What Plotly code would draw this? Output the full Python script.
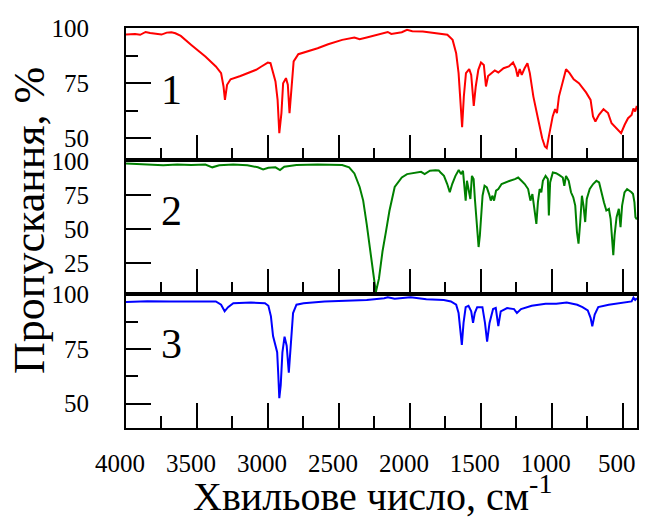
import plotly.graph_objects as go
from plotly.subplots import make_subplots

FONT = "Liberation Serif"

# ---- data: (wavenumber cm^-1, transmittance %) ----
red_points = [
    (4000, 97.2), (3936, 97.4), (3900, 97.0), (3862, 98.3), (3830, 97.8), (3788, 97.6),
    (3750, 97.1), (3713, 98.0), (3680, 98.2), (3652, 97.7), (3614, 96.5), (3540, 92.4),
    (3441, 87.1), (3367, 82.6), (3330, 79.6), (3313, 73.5), (3303, 67.4), (3288, 74.3),
    (3263, 76.8), (3194, 78.3), (3120, 80.3), (3083, 81.1), (3046, 82.6), (3001, 84.4),
    (2982, 84.1), (2964, 80.3), (2947, 75.8), (2932, 67.4), (2920, 52.3), (2905, 61.4),
    (2893, 75.0), (2873, 77.3), (2860, 74.3), (2848, 61.4), (2833, 75.0), (2819, 84.9),
    (2786, 88.2), (2725, 89.4), (2650, 90.9), (2576, 92.7), (2477, 94.7), (2391, 95.8),
    (2354, 95.0), (2304, 95.8), (2230, 97.0), (2156, 98.3), (2131, 97.4), (2057, 98.2),
    (2020, 99.3), (1983, 98.6), (1909, 98.5), (1810, 97.7), (1736, 97.0), (1699, 94.7),
    (1674, 88.6), (1657, 79.6), (1644, 67.4), (1632, 55.0), (1620, 68.9), (1605, 79.6),
    (1582, 81.4), (1568, 78.8), (1550, 64.7), (1536, 73.5), (1518, 81.1), (1499, 84.4),
    (1479, 83.3), (1464, 73.5), (1449, 78.3), (1427, 79.6), (1402, 80.8), (1377, 79.9),
    (1340, 81.8), (1303, 82.6), (1273, 84.4), (1254, 81.8), (1241, 78.0), (1226, 81.4),
    (1212, 78.8), (1192, 81.8), (1172, 84.1), (1155, 79.6), (1130, 68.9), (1098, 59.1),
    (1068, 50.0), (1049, 46.2), (1036, 45.5), (1019, 51.5), (994, 59.9), (977, 63.2),
    (964, 61.4), (950, 68.9), (925, 75.8), (900, 81.4), (875, 79.6), (846, 76.8),
    (809, 75.0), (759, 70.8), (727, 67.4), (710, 59.9), (693, 57.6), (668, 60.6),
    (636, 63.2), (604, 61.4), (579, 56.8), (549, 54.6), (512, 52.3), (487, 56.1),
    (463, 59.1), (438, 60.6), (425, 63.5), (413, 62.1), (401, 64.7),
]

green_points = [
    (4000, 98.2), (3936, 97.8), (3837, 97.5), (3738, 96.8), (3639, 97.3), (3540, 97.0),
    (3441, 97.3), (3392, 95.3), (3343, 96.8), (3244, 97.3), (3145, 96.8), (3071, 95.3),
    (3034, 93.8), (2997, 95.0), (2947, 95.3), (2915, 93.3), (2885, 95.8), (2799, 97.0),
    (2650, 97.3), (2477, 97.0), (2428, 95.3), (2391, 90.8), (2354, 80.8), (2329, 70.8),
    (2304, 53.3), (2280, 33.3), (2260, 15.8), (2240, 3.3), (2218, 13.3), (2193, 33.3),
    (2168, 48.3), (2144, 63.3), (2107, 80.8), (2057, 87.8), (2020, 90.3), (1958, 91.3),
    (1921, 92.0), (1896, 90.3), (1859, 92.8), (1820, 93.2), (1797, 93.0), (1784, 91.5),
    (1760, 89.0), (1737, 83.0), (1719, 76.9), (1702, 83.0), (1679, 89.0), (1656, 93.4),
    (1640, 90.3), (1626, 92.7), (1616, 81.7), (1607, 70.8), (1598, 85.4), (1586, 76.9),
    (1574, 72.0), (1563, 89.0), (1551, 86.6), (1542, 72.0), (1533, 59.8), (1523, 47.6),
    (1516, 36.6), (1507, 45.2), (1498, 59.8), (1488, 74.4), (1474, 81.7), (1458, 80.5),
    (1442, 75.6), (1430, 70.8), (1419, 74.4), (1407, 70.8), (1393, 78.1), (1377, 79.3),
    (1354, 83.0), (1330, 84.2), (1295, 85.4), (1260, 86.6), (1237, 87.8), (1214, 85.4),
    (1191, 83.0), (1167, 79.3), (1151, 70.8), (1137, 75.6), (1126, 68.3), (1109, 53.7),
    (1098, 69.6), (1086, 79.3), (1074, 76.9), (1063, 85.4), (1044, 89.0), (1028, 86.6),
    (1021, 59.8), (1012, 84.2), (993, 91.5), (970, 91.0), (947, 89.5), (923, 87.8),
    (912, 81.7), (900, 89.0), (881, 85.4), (865, 76.9), (849, 73.2), (835, 67.1),
    (823, 47.6), (812, 39.1), (800, 55.0), (788, 74.4), (777, 67.1), (765, 55.0),
    (754, 72.0), (733, 79.3), (709, 83.0), (686, 85.4), (667, 84.2), (651, 76.9),
    (633, 69.6), (616, 63.5), (598, 64.7), (586, 57.4), (574, 42.7), (567, 30.6),
    (558, 45.2), (544, 58.6), (528, 64.7), (516, 51.3), (505, 67.1), (488, 76.9),
    (470, 79.3), (453, 78.1), (439, 76.9), (428, 75.6), (418, 69.5), (411, 58.6),
    (401, 57.0),
]

blue_points = [
    (4000, 96.5), (3850, 96.8), (3689, 96.7), (3500, 96.6), (3367, 96.7), (3330, 95.2),
    (3305, 92.2), (3281, 94.1), (3244, 95.9), (3120, 96.2), (3021, 95.9), (2997, 94.7),
    (2979, 89.9), (2964, 80.9), (2947, 75.7), (2935, 73.5), (2927, 63.0), (2920, 52.5),
    (2910, 58.5), (2898, 73.5), (2883, 80.6), (2868, 76.5), (2853, 64.2), (2841, 73.5),
    (2823, 91.4), (2799, 95.2), (2749, 95.9), (2601, 96.7), (2453, 97.1), (2304, 97.4),
    (2181, 98.2), (2156, 98.6), (2107, 97.9), (1995, 98.6), (1884, 97.7), (1761, 97.4),
    (1711, 96.7), (1674, 95.2), (1657, 91.4), (1644, 83.9), (1634, 76.8), (1622, 86.9),
    (1607, 94.1), (1587, 94.7), (1568, 92.2), (1555, 86.9), (1543, 91.4), (1526, 94.1),
    (1489, 94.1), (1471, 86.9), (1456, 78.3), (1439, 86.9), (1414, 93.2), (1395, 93.7),
    (1377, 85.4), (1360, 92.2), (1315, 93.7), (1266, 93.2), (1246, 91.4), (1217, 93.2),
    (1142, 94.7), (1044, 95.6), (969, 95.6), (895, 96.2), (821, 95.2), (784, 94.1),
    (747, 92.6), (727, 89.2), (715, 85.4), (698, 90.7), (673, 94.1), (599, 95.2),
    (524, 95.9), (475, 96.2), (438, 96.7), (425, 98.4), (413, 97.4), (401, 98.2),
]

red_wn = [p[0] for p in red_points]
red_t = [p[1] for p in red_points]
green_wn = [p[0] for p in green_points]
green_t = [p[1] for p in green_points]
blue_wn = [p[0] for p in blue_points]
blue_t = [p[1] for p in blue_points]

x_major = [4000, 3500, 3000, 2500, 2000, 1500, 1000, 500]
x_minor = [3750, 3250, 2750, 2250, 1750, 1250, 750]
y_ticks_1 = [50, 75, 100]
y_ticks_2 = [25, 50, 75, 100]
y_ticks_3 = [50, 75, 100]
y_minor_13 = [62.5, 87.5]
panel_labels = ["1", "2", "3"]
x_title = "Хвильове число, см<sup>-1</sup>"
y_title = "Пропускання, %"

fig = make_subplots(rows=3, cols=1, shared_xaxes=True, vertical_spacing=0)
fig.add_trace(go.Scatter(x=red_wn, y=red_t, mode="lines",
                         line=dict(color="#ff0000", width=2)), row=1, col=1)
fig.add_trace(go.Scatter(x=green_wn, y=green_t, mode="lines",
                         line=dict(color="#008000", width=2)), row=2, col=1)
fig.add_trace(go.Scatter(x=blue_wn, y=blue_t, mode="lines",
                         line=dict(color="#0000ff", width=2)), row=3, col=1)

tick_font = dict(family=FONT, size=25, color="black")
minor_y = dict(tickvals=y_minor_13, ticks="inside", ticklen=12, tickwidth=2,
               tickcolor="black", showgrid=False)
for r in (1, 2, 3):
    fig.update_xaxes(
        range=[4000, 400], tickvals=x_major, ticks="inside", ticklen=25,
        tickwidth=2, tickcolor="black", showline=True, linewidth=2,
        linecolor="black", mirror=True, showgrid=False, zeroline=False,
        tickfont=tick_font, automargin=False,
        minor=dict(tickvals=x_minor, ticks="inside", ticklen=12, tickwidth=2,
                   tickcolor="black", showgrid=False),
        row=r, col=1)
fig.update_xaxes(showticklabels=False, row=1, col=1)
fig.update_xaxes(showticklabels=False, row=2, col=1)
fig.update_xaxes(showticklabels=True, ticklabelstandoff=12, ticklabelshift=6,
                 row=3, col=1)

for r, rng, tv in ((1, [39.9, 100.1], y_ticks_1),
                   (2, [2.0, 100.4], y_ticks_2),
                   (3, [38.9, 100.1], y_ticks_3)):
    fig.update_yaxes(
        range=rng, tickvals=tv, ticks="inside", ticklen=25, tickwidth=2,
        tickcolor="black", showline=True, linewidth=2, linecolor="black",
        mirror=True, showgrid=False, zeroline=False, tickfont=tick_font,
        ticklabelstandoff=30, automargin=False,
        row=r, col=1)
fig.update_yaxes(minor=minor_y, row=1, col=1)
fig.update_yaxes(minor=minor_y, row=3, col=1)

fig.update_layout(
    yaxis=dict(domain=[0.669, 1.0]),
    yaxis2=dict(domain=[0.335, 0.669]),
    yaxis3=dict(domain=[0.0, 0.335]),
)

annotations = [
    dict(text=panel_labels[0], x=3676, y=72.0, xref="x", yref="y", showarrow=False,
         font=dict(family=FONT, size=42, color="black")),
    dict(text=panel_labels[1], x=3676, y=63.4, xref="x2", yref="y2", showarrow=False,
         font=dict(family=FONT, size=42, color="black")),
    dict(text=panel_labels[2], x=3676, y=77.3, xref="x3", yref="y3", showarrow=False,
         font=dict(family=FONT, size=42, color="black")),
    dict(text=x_title, x=0.483, y=-0.164, xref="paper", yref="paper",
         xanchor="center", yanchor="middle", showarrow=False,
         font=dict(family=FONT, size=40, color="black")),
    dict(text=y_title, x=-0.19, y=0.52, xref="paper", yref="paper",
         xanchor="center", yanchor="middle", textangle=-90, showarrow=False,
         font=dict(family=FONT, size=44, color="black")),
]

# the page adds an 8 px body margin, so the figure is drawn 8 px smaller
fig.update_layout(
    width=641, height=509,
    margin=dict(l=118, r=12, t=20, b=89, autoexpand=False),
    paper_bgcolor="white", plot_bgcolor="white",
    font=dict(family=FONT, size=25, color="black"),
    showlegend=False,
    annotations=annotations,
)

fig.write_html("out.html")
